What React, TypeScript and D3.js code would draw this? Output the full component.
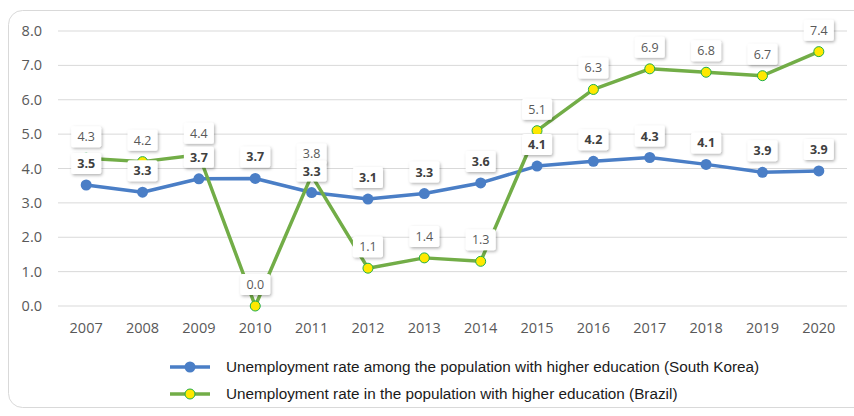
import React from "react";
import * as d3 from "d3";

const years = ["2007","2008","2009","2010","2011","2012","2013","2014","2015","2016","2017","2018","2019","2020"];
const korea = [3.52, 3.31, 3.70, 3.71, 3.30, 3.11, 3.27, 3.58, 4.07, 4.21, 4.32, 4.12, 3.89, 3.93];
const brazil = [4.3, 4.2, 4.4, 0.0, 3.8, 1.1, 1.4, 1.3, 5.1, 6.3, 6.9, 6.8, 6.7, 7.4];
const yTicks = [0, 1, 2, 3, 4, 5, 6, 7, 8];
const legendLabels = [
  "Unemployment rate among the population with higher education (South Korea)",
  "Unemployment rate in the population with higher education (Brazil)",
];

const W = 854, H = 416;
const BLUE = "#4a7ec6";
const GREEN = "#72ad47";
const YELLOW = "#ffe800";
const MARK_STROKE = "#1fae4a";
const FONT = "'Open Sans', sans-serif";
const LFONT = "'Liberation Sans', Arial, sans-serif";

export default function App() {
  const x = d3.scalePoint<string>().domain(years).range([58, 847]).padding(0.5);
  const y = d3.scaleLinear().domain([0, 8]).range([306, 31]);
  const line = d3.line<number>().x((_, i) => x(years[i])!).y((d) => y(d));

  const labelBox = (v: number, i: number, bold: boolean, key: string) => {
    const cx = x(years[i])!;
    const cy = y(v) - 21.5;
    return (
      <g key={key}>
        <rect x={cx - 15} y={cy - 10.5} width={30} height={21} rx={2} fill="#fff" filter="url(#sh)" />
        <text x={cx} y={cy} dy="0.36em" textAnchor="middle" fontFamily={FONT} fontSize={12.5}
          fontWeight={bold ? 700 : 400} fill={bold ? "#404040" : "#595959"}>{v.toFixed(1)}</text>
      </g>
    );
  };

  return (
    <svg width={W} height={H} style={{ position: "absolute", left: 0, top: 0, background: "#fff" }}>
      <defs>
        <filter id="sh" x="-50%" y="-50%" width="200%" height="200%">
          <feDropShadow dx={1.2} dy={1.5} stdDeviation={1.4} floodColor="#000" floodOpacity={0.3} />
        </filter>
      </defs>
      <rect x={8.5} y={10.5} width={900} height={397} rx={14} fill="#fff" stroke="#d9d9d9" strokeWidth={1} />
      {yTicks.map((t) => (
        <g key={t}>
          <line x1={58} x2={847} y1={y(t)} y2={y(t)} stroke="#d9d9d9" strokeWidth={1} />
          <text x={42} y={y(t)} dy="0.35em" textAnchor="end" fontFamily={FONT} fontSize={14.5} fill="#595959">{t.toFixed(1)}</text>
        </g>
      ))}
      {years.map((yr) => (
        <text key={yr} x={x(yr)} y={328} dy="0.35em" textAnchor="middle" fontFamily={FONT} fontSize={14.5} fill="#595959">{yr}</text>
      ))}
      <path d={line(korea)!} fill="none" stroke={BLUE} strokeWidth={3.5} strokeLinejoin="round" />
      {korea.map((v, i) => (
        <circle key={"k" + i} cx={x(years[i])} cy={y(v)} r={5.5} fill={BLUE} />
      ))}
      <path d={line(brazil)!} fill="none" stroke={GREEN} strokeWidth={3.5} strokeLinejoin="round" />
      {brazil.map((v, i) => (
        <circle key={"b" + i} cx={x(years[i])} cy={y(v)} r={5} fill={YELLOW} stroke={MARK_STROKE} strokeWidth={1} />
      ))}
      {brazil.map((v, i) => labelBox(v, i, false, "bl" + i))}
      {korea.map((v, i) => labelBox(v, i, true, "kl" + i))}
      <g>
        <line x1={170} x2={210} y1={367} y2={367} stroke={BLUE} strokeWidth={3.5} />
        <circle cx={190} cy={367} r={5.5} fill={BLUE} />
        <text x={226} y={367} dy="0.35em" fontFamily={LFONT} fontSize={15.3} fill="#1a1a1a">{legendLabels[0]}</text>
        <line x1={170} x2={210} y1={394} y2={394} stroke={GREEN} strokeWidth={3.5} />
        <circle cx={190} cy={394} r={5} fill={YELLOW} stroke={MARK_STROKE} strokeWidth={1} />
        <text x={226} y={394} dy="0.35em" fontFamily={LFONT} fontSize={15.3} fill="#1a1a1a">{legendLabels[1]}</text>
      </g>
    </svg>
  );
}
